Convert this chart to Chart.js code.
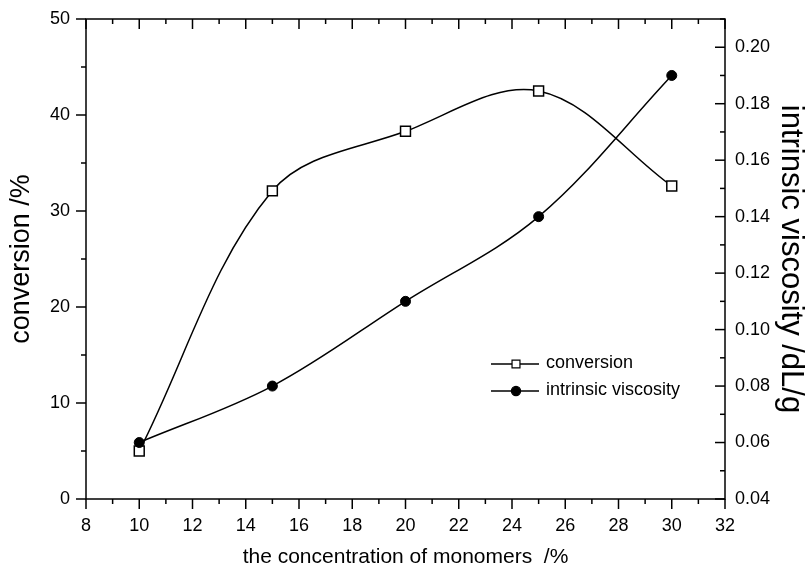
<!DOCTYPE html>
<html>
<head>
<meta charset="utf-8">
<script src="https://cdn.jsdelivr.net/npm/chart.js@4/dist/chart.umd.min.js"></script>
<style>
  html, body { margin: 0; padding: 0; background: #fff; }
  #wrap { width: 806px; height: 571px; }
</style>
</head>
<body>
<div id="wrap"><canvas id="chart" width="806" height="571"></canvas></div>
<script>
// monomer concentration (%) vs conversion and intrinsic viscosity
const concentration = [10, 15, 20, 25, 30];
const conversion = [5.0, 32.1, 38.3, 42.5, 32.6];
const viscosity = [0.06, 0.08, 0.11, 0.14, 0.19];

const xTicks = [8, 10, 12, 14, 16, 18, 20, 22, 24, 26, 28, 30, 32];
const leftTicks = [0, 10, 20, 30, 40, 50];
const rightTicks = [0.04, 0.06, 0.08, 0.10, 0.12, 0.14, 0.16, 0.18, 0.20];

const FONT = "'Liberation Sans', Arial, sans-serif";

function pairs(xs, ys) {
  return xs.map((x, i) => ({ x: x, y: ys[i] }));
}

function setTicks(values) {
  return function (scale) {
    scale.ticks = values.map(v => ({ value: v }));
  };
}

// fixed axis size, and no extra room asked for the end labels
function fixSize(prop, size) {
  return function (scale) {
    scale[prop] = size;
    scale.paddingTop = 0;
    scale.paddingBottom = 0;
    scale.paddingLeft = 0;
    scale.paddingRight = 0;
  };
}

// half-step minor ticks between the major ones
function minorTicks(values, max) {
  const step = values[1] - values[0];
  const out = [];
  values.forEach(v => {
    const m = v + step / 2;
    if (m <= max + 1e-9) out.push(m);
  });
  return out;
}

// axis frame with ticks: outward on left/bottom, inward on top/right
const frame = {
  id: 'frame',
  afterDatasetsDraw(chart) {
    const ctx = chart.ctx;
    const a = chart.chartArea;
    const x = chart.scales.x, y = chart.scales.y, y2 = chart.scales.y2;
    ctx.save();
    ctx.strokeStyle = '#000';
    ctx.lineWidth = 1.5;
    ctx.strokeRect(a.left, a.top, a.right - a.left, a.bottom - a.top);

    const line = (x1, y1, x2, y2) => {
      ctx.beginPath(); ctx.moveTo(x1, y1); ctx.lineTo(x2, y2); ctx.stroke();
    };
    const big = 10, small = 5;

    xTicks.forEach(v => {
      const px = x.getPixelForValue(v);
      line(px, a.bottom, px, a.bottom + big);
      line(px, a.top, px, a.top + big);
    });
    minorTicks(xTicks, x.max).forEach(v => {
      const px = x.getPixelForValue(v);
      line(px, a.bottom, px, a.bottom + small);
      line(px, a.top, px, a.top + small);
    });
    leftTicks.forEach(v => {
      const py = y.getPixelForValue(v);
      line(a.left - big, py, a.left, py);
    });
    minorTicks(leftTicks, y.max).forEach(v => {
      const py = y.getPixelForValue(v);
      line(a.left - small, py, a.left, py);
    });
    rightTicks.forEach(v => {
      const py = y2.getPixelForValue(v);
      line(a.right - big, py, a.right, py);
    });
    minorTicks(rightTicks, y2.max).forEach(v => {
      const py = y2.getPixelForValue(v);
      line(a.right - small, py, a.right, py);
    });
    ctx.restore();
  },
  afterDraw(chart) {
    // legend inside the plot
    const ctx = chart.ctx;
    const rows = [
      { ds: chart.data.datasets[0], y: 364 },
      { ds: chart.data.datasets[1], y: 391 }
    ];
    ctx.save();
    rows.forEach(r => {
      ctx.strokeStyle = '#000';
      ctx.lineWidth = 1.5;
      ctx.beginPath(); ctx.moveTo(491, r.y); ctx.lineTo(539, r.y); ctx.stroke();
      ctx.fillStyle = r.ds.pointBackgroundColor;
      ctx.lineWidth = 1.2;
      Chart.helpers.drawPoint(ctx, {
        pointStyle: r.ds.pointStyle,
        radius: r.ds.pointStyle === 'rect' ? 5.6 : 4.6,
        borderWidth: 1.2
      }, 516, r.y);
      ctx.fillStyle = '#000';
      ctx.font = '18px ' + FONT;
      ctx.textBaseline = 'middle';
      ctx.fillText(r.ds.label, 546, r.y - 1);
    });
    ctx.restore();
  }
};

new Chart(document.getElementById('chart'), {
  type: 'line',
  data: {
    datasets: [{
      label: 'conversion',
      data: pairs(concentration, conversion),
      yAxisID: 'y',
      borderColor: '#000',
      borderWidth: 1.5,
      tension: 0.35,
      pointStyle: 'rect',
      pointRadius: 7,
      pointBorderWidth: 1.5,
      pointBackgroundColor: '#fff',
      pointBorderColor: '#000',
      order: 1
    }, {
      label: 'intrinsic viscosity',
      data: pairs(concentration, viscosity),
      yAxisID: 'y2',
      borderColor: '#000',
      borderWidth: 1.5,
      tension: 0.35,
      pointStyle: 'circle',
      pointRadius: 5,
      pointBorderWidth: 1,
      pointBackgroundColor: '#000',
      pointBorderColor: '#000',
      order: 0
    }]
  },
  options: {
    responsive: false,
    animation: false,
    layout: { padding: { top: 19, left: 0, right: 0, bottom: 0 } },
    plugins: {
      legend: { display: false },
      tooltip: { enabled: false }
    },
    scales: {
      x: {
        type: 'linear',
        position: 'bottom',
        min: 8,
        max: 32,
        afterBuildTicks: setTicks(xTicks),
        afterFit: fixSize('height', 72),
        grid: { display: false, drawTicks: false },
        border: { display: false },
        ticks: {
          color: '#000',
          padding: 16,
          font: { family: FONT, size: 18 },
          maxRotation: 0
        },
        title: {
          display: true,
          text: 'the concentration of monomers  /%',
          color: '#000',
          font: { family: FONT, size: 21 },
          padding: { top: 0, bottom: 1 }
        }
      },
      y: {
        type: 'linear',
        position: 'left',
        min: 0,
        max: 50,
        afterBuildTicks: setTicks(leftTicks),
        afterFit: fixSize('width', 86),
        grid: { display: false, drawTicks: false },
        border: { display: false },
        ticks: {
          color: '#000',
          padding: 16,
          font: { family: FONT, size: 18 }
        },
        title: {
          display: true,
          text: 'conversion /%',
          color: '#000',
          font: { family: FONT, size: 27 },
          padding: { top: 5, bottom: 0 }
        }
      },
      y2: {
        type: 'linear',
        position: 'right',
        min: 0.04,
        max: 0.21,
        afterBuildTicks: setTicks(rightTicks),
        afterFit: fixSize('width', 81),
        grid: { display: false, drawTicks: false },
        border: { display: false },
        ticks: {
          color: '#000',
          padding: 10,
          font: { family: FONT, size: 18 },
          callback: v => v.toFixed(2)
        },
        title: {
          display: true,
          text: 'intrinsic viscosity /dL/g',
          color: '#000',
          font: { family: FONT, size: 31, lineHeight: 1 },
          padding: { top: 0, bottom: 0 }
        }
      }
    }
  },
  plugins: [frame]
});
</script>
</body>
</html>
